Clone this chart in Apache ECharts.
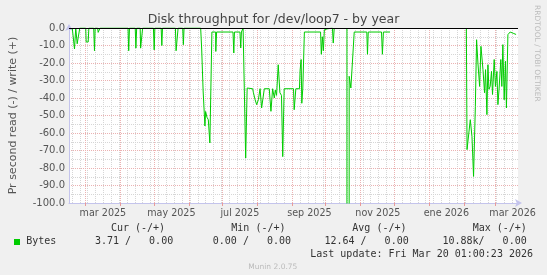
<!DOCTYPE html>
<html><head><meta charset="utf-8">
<script src="https://cdn.jsdelivr.net/npm/echarts@6/dist/echarts.min.js"></script>
<style>html,body{margin:0;padding:0;background:#f0f0f0;}#c{width:547px;height:275px;}</style>
</head><body><div id="c"></div>
<script>
// x = days since 2025-03-01, readRate = bytes/s read (drawn as negative), null = no data
const days = [
  -11.8,-9.8,-8.7,-7.4,-5.9,-5.1,0.2,0.6,2.4,3.0,7.3,8.0,8.6,10.8,11.3,12.4,13.0,
  37.9,38.5,39.2,44.3,44.9,45.6,48.7,49.1,50.3,50.9,60.5,61.2,61.8,67.4,68.0,68.6,
  80.1,80.7,81.9,82.5,86.6,87.2,87.8,102.6,103.5,104.8,105.7,106.4,107.0,108.2,109.4,110.8,112.6,
  115.9,116.1,116.8,131.4,132.1,132.7,137.6,138.3,138.9,139.8,140.4,141.8,142.7,144.0,
  148.9,149.6,151.1,152.5,154.0,155.5,156.9,158.4,159.3,163.7,165.2,166.7,168.2,169.1,170.2,
  171.7,173.2,174.6,175.7,177.0,185.3,185.9,187.4,190.6,191.2,192.1,192.7,193.6,195.0,
  209.4,210.1,211.0,211.9,212.8,215.2,220.0,220.7,221.6,222.5,
  232.9,233.5,234.9,236.4,237.9,239.4,250.6,251.2,251.9,263.7,264.5,265.4,271.3,272.2,
  339.3,339.9,341.3,342.8,344.3,345.7,347.3,348.4,349.6,351.1,352.3,353.2,354.1,355.5,356.4,
  357.6,358.5,359.4,360.5,361.7,362.6,364.1,365.2,366.5,367.4,368.5,370.0,370.9,371.8,373.0,
  374.1,375.0,376.3,377.4,378.3,379.8,381.0,382.3,383.6
];
const readRate = [
  0,12,0,9,9,0,0,8,8,0,0,13,0,0,2.5,2.5,0,
  0,13,0,0,11.5,0,0,11.5,11.5,0,0,12.5,0,0,10,0,
  0,13,13,0,0,9.5,0,0,12,36,36,56,47.7,51,52.4,65.7,2.3,
  2.3,13.4,2.3,2.3,14.3,2.3,2.3,11.4,2.3,2.3,0,0,74.3,34.3,
  34.7,37,41,43.8,41,34.7,45.7,46.3,34.7,34.7,47.6,34.7,40,35.5,38.5,
  21,37,38.5,73.5,34.7,34.7,46.7,34.7,34.7,24,18,43,34.3,2.3,
  2.3,15,5,13,1,0.5,0,8.6,0,null,
  0,10880,27.6,34.3,34.3,2.3,2.3,15,2.3,2.3,15,2.3,2.3,null,
  0,69.5,70.5,52.4,62,84.8,44.8,6.7,20,33.4,10.5,10.5,23.8,37,23.8,
  49.5,21,35,33.4,24.8,38,18,33.4,24.8,43.8,34.3,18,33.4,9.5,41,
  19,45.7,3.8,2.9,2.3,1.8,3,2.5,3.7
];
const monthStartDays = [0,31,61,92,122,153,184,214,245,275,306,337,365];
const monthLabelDays = [15.5,76.5,137.5,199.5,260.5,321.5,380.5];
const monthLabels = ['mar 2025','may 2025','jul 2025','sep 2025','nov 2025','ene 2026','mar 2026'];
const firstMonday = -12;
const legendHeaders = ['Cur (-/+)','Min (-/+)','Avg (-/+)','Max (-/+)'];
const legendValues = ['3.71 /   0.00','0.00 /   0.00','12.64 /   0.00','10.88k/   0.00'];
const seriesName = 'Bytes';
const lastUpdate = 'Last update: Fri Mar 20 01:00:23 2026';

const X_MIN = -14.7, X_MAX = 385.3;
const weekDays = [];
for (let d = firstMonday; d <= X_MAX; d += 7) weekDays.push(d);

const FONT = '"DejaVu Sans"';
const MONO = '"DejaVu Sans Mono"';
const AXIS_C = '#c4c4ec';
const MAJOR = '#ebb2b2';
const MINOR = '#d6d6d6';

const seriesData = days.map((d, i) => [d, readRate[i] == null ? null : -readRate[i]]);

const headerX = [110.9, 231.3, 352.3, 472.7];
const valueX = [94.9, 212.8, 324.4, 442.4];
const graphic = [];
legendHeaders.forEach((t, i) => graphic.push({type:'text', x:headerX[i], y:228.6,
  style:{text:t, font:'10px ' + MONO, fill:'#333', align:'left', verticalAlign:'middle'}}));
legendValues.forEach((t, i) => graphic.push({type:'text', x:valueX[i], y:241.9,
  style:{text:t, font:'10px ' + MONO, fill:'#333', align:'left', verticalAlign:'middle'}}));
graphic.push({type:'rect', shape:{x:14, y:239, width:6, height:6}, style:{fill:'#00cc00'}});
graphic.push({type:'text', x:26.2, y:241.9, style:{text:seriesName, font:'10px ' + MONO, fill:'#333', align:'left', verticalAlign:'middle'}});
graphic.push({type:'text', x:533, y:254.1, style:{text:lastUpdate, font:'10px ' + MONO, fill:'#333', align:'right', verticalAlign:'middle'}});
graphic.push({type:'text', x:272.8, y:266.6, style:{text:'Munin 2.0.75', font:'7.5px ' + FONT, fill:'#bbb', align:'center', verticalAlign:'middle'}});
graphic.push({type:'text', x:537, y:53.3, rotation:-Math.PI/2, style:{text:'RRDTOOL / TOBI OETIKER', font:'7.5px ' + FONT, fill:'#bbb', align:'center', verticalAlign:'middle'}});

const chart = echarts.init(document.getElementById('c'), null, {renderer:'canvas', width:547, height:275});
chart.setOption({
  backgroundColor:'#f0f0f0',
  animation:false,
  title:{text:'Disk throughput for /dev/loop7 - by year', left:'center', top:8,
    textStyle:{fontFamily:'DejaVu Sans', fontSize:12.5, fontWeight:'normal', color:'#444'}},
  grid:{left:67, top:28, width:451, height:175, show:true, backgroundColor:'#fff', borderWidth:0},
  xAxis:[
    {type:'value', min:X_MIN, max:X_MAX, position:'bottom', z:1.5,
      axisLine:{show:true, onZero:false, lineStyle:{color:AXIS_C, width:1}, symbol:['none','arrow'], symbolSize:[6,7], symbolOffset:[0,4]},
      axisTick:{show:true, customValues:monthStartDays, length:3, lineStyle:{color:'#e89a9a'}},
      axisLabel:{show:true, customValues:monthLabelDays, formatter:v => monthLabels[monthLabelDays.indexOf(v)] || '',
        fontFamily:'DejaVu Sans', fontSize:9.6, color:'#555', margin:5},
      splitLine:{show:true, lineStyle:{color:MAJOR, width:1, type:[1,1]}}},
    {type:'value', min:X_MIN, max:X_MAX, position:'top', z:1,
      axisLine:{show:false, onZero:false},
      axisTick:{show:true, customValues:weekDays, length:0, lineStyle:{color:'rgba(0,0,0,0)'}},
      axisLabel:{show:false},
      splitLine:{show:true, lineStyle:{color:MINOR, width:1, type:[1,1]}}}
  ],
  yAxis:[{type:'value', min:-100, max:0, interval:10, z:1.2,
    name:'Pr second read (-) / write (+)', nameLocation:'middle', nameGap:50, nameRotate:90,
    nameTextStyle:{fontFamily:'DejaVu Sans', fontSize:11, color:'#555'},
    axisLine:{show:true, onZero:false, lineStyle:{color:AXIS_C, width:1}, symbol:['none','arrow'], symbolSize:[6,7], symbolOffset:[0,4]},
    axisTick:{show:false},
    axisLabel:{formatter:v => v.toFixed(1), fontFamily:'DejaVu Sans', fontSize:10, color:'#555', margin:4},
    splitLine:{show:true, lineStyle:{color:MAJOR, width:1, type:[1,1]}},
    minorTick:{show:false, splitNumber:2},
    minorSplitLine:{show:true, lineStyle:{color:MINOR, width:1, type:[1,1]}}
  }],
  series:[{
    name:seriesName, type:'line', xAxisIndex:0, yAxisIndex:0, data:seriesData,
    showSymbol:false, symbol:'none', connectNulls:false, clip:true, z:2,
    lineStyle:{color:'#00cc00', width:1},
    markLine:{silent:true, symbol:['none','none'], label:{show:false}, animation:false,
      lineStyle:{color:'#000', width:1, type:'solid'}, emphasis:{disabled:true}, data:[{yAxis:0}]}
  }],
  graphic:graphic
});
</script></body></html>
